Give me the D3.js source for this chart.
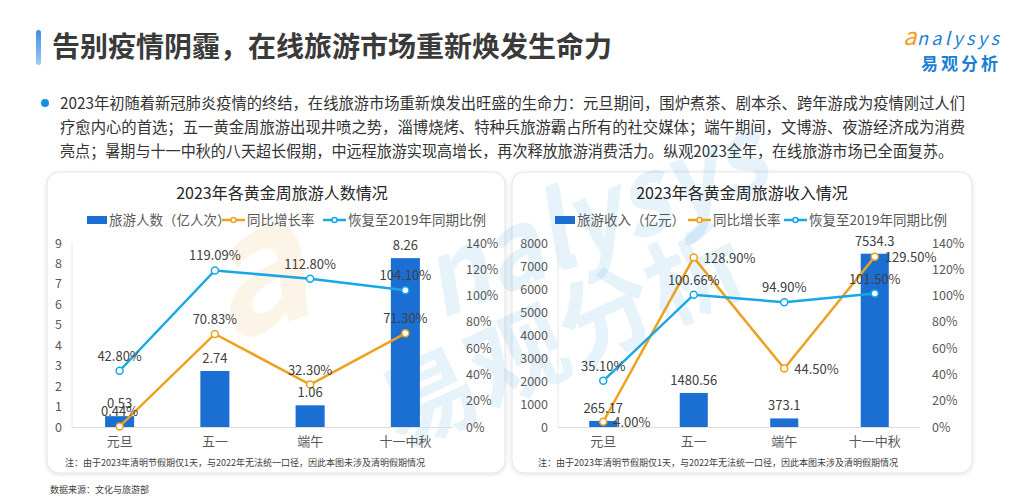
<!DOCTYPE html>
<html><head><meta charset="utf-8">
<script src="https://cdn.jsdelivr.net/npm/d3@7"></script>
<style>
html,body{margin:0;padding:0;background:#fff;}
svg{display:block;font-family:"Noto Sans CJK SC","Noto Sans",sans-serif;}
</style></head>
<body><svg id="c" width="1019" height="500"></svg>
<script>
const categories = ["元旦","五一","端午","十一中秋"];
const visitors = [0.53, 2.74, 1.06, 8.26];
const visitorsYoY = [0.44, 70.83, 32.30, 71.30];
const visitorsRecov = [42.80, 119.09, 112.80, 104.10];
const revenue = [265.17, 1480.56, 373.1, 7534.3];
const revenueYoY = [4.00, 128.90, 44.50, 129.50];
const revenueRecov = [35.10, 100.66, 94.90, 101.50];
const leftTicksA = [0,1,2,3,4,5,6,7,8,9];
const leftTicksB = [0,1000,2000,3000,4000,5000,6000,7000,8000];
const pctTicks = [0,20,40,60,80,100,120,140];

const svg = d3.select("#c");
const BAR="#1b6fd3", ORANGE="#eda11f", BLUE="#18a7e6";
const defs = svg.append("defs");

// header
const grad = defs.append("linearGradient").attr("id","tb").attr("x1",0).attr("y1",0).attr("x2",0).attr("y2",1);
grad.append("stop").attr("offset","0%").attr("stop-color","#3b8de8");
grad.append("stop").attr("offset","100%").attr("stop-color","#9fcdf5");
svg.append("rect").attr("x",36).attr("y",30).attr("width",5).attr("height",35).attr("rx",2.5).attr("fill","url(#tb)");
svg.append("text").attr("x",52).attr("y",57).attr("font-size",28).attr("font-weight",700).attr("fill","#3a3a3a")
  .text("告别疫情阴霾，在线旅游市场重新焕发生命力");
// logo
svg.append("text").attr("x",903).attr("y",45).attr("font-size",24).attr("font-style","italic").attr("fill","#f0a020").text("a");
svg.append("text").attr("x",917).attr("y",45).attr("font-size",18).attr("font-style","italic").attr("fill","#1a7fd6").attr("textLength",82).text("nalysys");
svg.append("text").attr("x",921).attr("y",70).attr("font-size",17).attr("font-weight",700).attr("fill","#1a7fd6").attr("textLength",77).text("易观分析");

// paragraph
svg.append("circle").attr("cx",45).attr("cy",103).attr("r",4).attr("fill","#1a8fe0");
const para = ["2023年初随着新冠肺炎疫情的终结，在线旅游市场重新焕发出旺盛的生命力：元旦期间，围炉煮茶、剧本杀、跨年游成为疫情刚过人们",
"疗愈内心的首选；五一黄金周旅游出现井喷之势，淄博烧烤、特种兵旅游霸占所有的社交媒体；端午期间，文博游、夜游经济成为消费",
"亮点；暑期与十一中秋的八天超长假期，中远程旅游实现高增长，再次释放旅游消费活力。纵观2023全年，在线旅游市场已全面复苏。"];
para.forEach((t,i)=>{
  svg.append("text").attr("x",60).attr("y",109+i*24).attr("font-size",15.5).attr("fill","#333")
    .attr("textLength",i<2?905:893).attr("lengthAdjust","spacingAndGlyphs").text(t);
});

// panels
const sh = defs.append("filter").attr("id","sh").attr("x","-5%").attr("y","-5%").attr("width","110%").attr("height","110%");
sh.append("feDropShadow").attr("dx",0).attr("dy",1).attr("stdDeviation",2).attr("flood-color","#000").attr("flood-opacity",0.12);
[[47,172,458,301],[512,172,460,301]].forEach(p=>{
  svg.append("rect").attr("x",p[0]).attr("y",p[1]).attr("width",p[2]).attr("height",p[3]).attr("rx",12)
    .attr("fill","#fff").attr("stroke","#e4e4e4").attr("filter","url(#sh)");
});

// watermark
const wm = svg.append("g").style("pointer-events","none");
wm.append("text").attr("x",225).attr("y",345).attr("transform","rotate(-20 225 345)")
  .attr("font-size",170).attr("font-style","italic").attr("font-weight",700).attr("fill","#f0900a").attr("opacity",0.09).text("a");
wm.append("text").attr("x",440).attr("y",320).attr("transform","rotate(-22 440 320)")
  .attr("font-size",105).attr("font-style","italic").attr("font-weight",700).attr("fill","#1a8fe0").attr("opacity",0.1)
  .attr("textLength",360).attr("lengthAdjust","spacingAndGlyphs").text("nalysys");
wm.append("text").attr("x",400).attr("y",450).attr("transform","rotate(-25 400 450)")
  .attr("font-size",95).attr("font-weight",700).attr("fill","#1a8fe0").attr("opacity",0.1)
  .attr("textLength",390).attr("lengthAdjust","spacingAndGlyphs").text("易观分析");

function drawChart(o){
  const g = svg.append("g");
  g.append("text").attr("x",o.titleX).attr("y",199).attr("text-anchor","middle").attr("font-size",16).attr("fill","#262626").text(o.title);
  // legend
  const L=o.legend;
  g.append("rect").attr("x",L[0]).attr("y",216).attr("width",20).attr("height",8).attr("fill",BAR);
  g.append("text").attr("x",L[0]+22).attr("y",225).attr("font-size",13.5).attr("fill","#595959").text(o.legendBar);
  [[L[1],ORANGE,"同比增长率"],[L[2],BLUE,"恢复至2019年同期比例"]].forEach(d=>{
    g.append("line").attr("x1",d[0]).attr("x2",d[0]+23).attr("y1",220).attr("y2",220).attr("stroke",d[1]).attr("stroke-width",2.5);
    g.append("circle").attr("cx",d[0]+11.5).attr("cy",220).attr("r",2.5).attr("fill","#fff").attr("stroke",d[1]).attr("stroke-width",1.5);
    g.append("text").attr("x",d[0]+25).attr("y",225).attr("font-size",13.5).attr("fill","#595959").text(d[2]);
  });
  const x = d3.scaleBand().domain(categories).range([o.x0,o.x1]).padding(0);
  const cx = c=>x(c)+x.bandwidth()/2;
  const y = d3.scaleLinear().domain([0,o.ymax]).range([427,243]);
  const yp = d3.scaleLinear().domain([0,140]).range([427,243]);
  // axes
  const ax = g.append("g").attr("transform",`translate(${o.leftLab},0)`)
    .call(d3.axisLeft(y).tickValues(o.leftTicks).tickSize(0).tickPadding(0).tickFormat(d3.format("d")));
  ax.select(".domain").remove();
  ax.selectAll("text").attr("font-size",12.5).attr("fill","#595959").attr("font-family","Noto Sans CJK SC");
  const ay = g.append("g").attr("transform",`translate(${o.rightLab},0)`)
    .call(d3.axisRight(yp).tickValues(pctTicks).tickSize(0).tickPadding(0).tickFormat(d=>d+"%"));
  ay.select(".domain").remove();
  ay.selectAll("text").attr("font-size",12.5).attr("fill","#595959").attr("font-family","Noto Sans CJK SC");
  g.append("line").attr("x1",o.x0).attr("x2",o.x0).attr("y1",243).attr("y2",427).attr("stroke","#e6e6e6");
  g.append("line").attr("x1",o.x0).attr("x2",o.x1).attr("y1",427.5).attr("y2",427.5).attr("stroke","#dcdcdc");
  const xa = g.append("g").attr("transform","translate(0,437)").call(d3.axisBottom(x).tickSize(0).tickPadding(0));
  xa.select(".domain").remove();
  xa.selectAll("text").attr("font-size",13).attr("fill","#595959").attr("font-family","Noto Sans CJK SC").attr("dy","0.71em");
  // bars
  const bw = x.bandwidth()*o.barFrac;
  g.selectAll(".bar").data(o.bars).join("rect").attr("x",(d,i)=>cx(categories[i])-bw/2).attr("y",d=>y(d))
    .attr("width",bw).attr("height",d=>427-y(d)).attr("fill",BAR);
  // lines
  const line = d3.line().x((d,i)=>cx(categories[i])).y(d=>yp(d));
  [[o.yoy,ORANGE],[o.recov,BLUE]].forEach(s=>{
    g.append("path").datum(s[0]).attr("d",line).attr("fill","none").attr("stroke",s[1]).attr("stroke-width",2.5);
    g.selectAll(null).data(s[0]).join("circle").attr("cx",(d,i)=>cx(categories[i])).attr("cy",d=>yp(d)).attr("r",3.5)
      .attr("fill","#fff").attr("stroke",s[1]).attr("stroke-width",1.5);
  });
  // labels
  const lab = (sel)=>sel.attr("font-size",13).attr("fill","#404040").attr("font-family","Noto Sans CJK SC");
  g.selectAll(null).data(o.bars).join("text").attr("x",(d,i)=>cx(categories[i])).attr("y",d=>y(d)-8)
    .attr("text-anchor","middle").text(d=>d).call(lab);
  g.selectAll(null).data(o.recov).join("text").attr("x",(d,i)=>cx(categories[i])).attr("y",d=>yp(d)-10)
    .attr("text-anchor","middle").text(d=>d.toFixed(2)+"%").call(lab);
  if(o.yoyRight){
    g.selectAll(null).data(o.yoy).join("text").attr("x",(d,i)=>cx(categories[i])+10).attr("y",d=>yp(d)+5)
      .attr("text-anchor","start").text(d=>d.toFixed(2)+"%").call(lab);
  } else {
    g.selectAll(null).data(o.yoy).join("text").attr("x",(d,i)=>cx(categories[i])).attr("y",d=>yp(d)-10)
      .attr("text-anchor","middle").text(d=>d.toFixed(2)+"%").call(lab);
  }
  g.append("text").attr("x",o.noteX).attr("y",466).attr("font-size",9).attr("fill","#404040")
    .text("注：由于2023年清明节假期仅1天，与2022年无法统一口径，因此本图未涉及清明假期情况");
}

drawChart({title:"2023年各黄金周旅游人数情况",titleX:282,legend:[87,222,323],legendBar:"旅游人数（亿人次）",
  x0:72,x1:453,ymax:9,leftTicks:leftTicksA,leftLab:62,rightLab:466,barFrac:0.305,
  bars:visitors,yoy:visitorsYoY,recov:visitorsRecov,yoyRight:false,noteX:65});
drawChart({title:"2023年各黄金周旅游收入情况",titleX:742,legend:[555,688,784],legendBar:"旅游收入（亿元）",
  x0:558,x1:920,ymax:8000,leftTicks:leftTicksB,leftLab:548,rightLab:932,barFrac:0.31,
  bars:revenue,yoy:revenueYoY,recov:revenueRecov,yoyRight:true,noteX:538});

svg.append("text").attr("x",50).attr("y",493).attr("font-size",9).attr("fill","#404040").text("数据来源：文化与旅游部");
</script></body></html>
